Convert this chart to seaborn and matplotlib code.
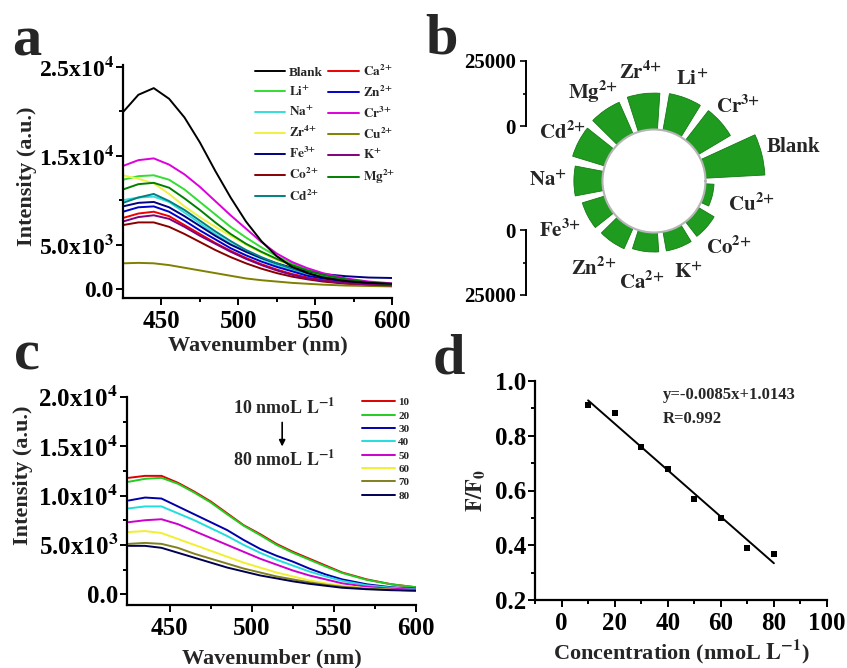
import numpy as np
import pandas as pd
import matplotlib
matplotlib.use("Agg")
import matplotlib.pyplot as plt
import seaborn as sns
from matplotlib.ticker import FixedLocator, FixedFormatter, MultipleLocator

sns.set_theme(style="ticks")
plt.rcParams["font.family"] = ["Liberation Serif", "DejaVu Serif"]
plt.rcParams["font.weight"] = "bold"
plt.rcParams["axes.labelweight"] = "bold"
plt.rcParams["mathtext.fontset"] = "stix"
plt.rcParams["mathtext.default"] = "bf"

# ---------------- data ----------------
wavelength = [425, 435, 445, 455, 465, 475, 485, 495, 505, 515, 525, 535, 545, 555, 570, 585, 600]

# panel a: emission spectra with different ions
blank = [19900, 21850, 22600, 21400, 19300, 16500, 13300, 10300, 7600, 5400, 3700, 2500, 1800, 1300, 900, 700, 600]
li = [12300, 12700, 12800, 12300, 11200, 9800, 8400, 7000, 5800, 4700, 3700, 2900, 2200, 1700, 1100, 750, 550]
na = [10000, 10300, 10400, 9800, 8600, 7400, 6200, 5100, 4200, 3400, 2700, 2100, 1700, 1300, 900, 650, 500]
zr = [12800, 12400, 11900, 10700, 9300, 8100, 7000, 6000, 5000, 4100, 3300, 2600, 2000, 1500, 1000, 700, 500]
fe = [9300, 9700, 9800, 9200, 8200, 7100, 6000, 5000, 4200, 3500, 2900, 2400, 2000, 1700, 1450, 1300, 1250]
co = [7200, 7500, 7500, 7000, 6200, 5300, 4400, 3600, 2900, 2300, 1800, 1400, 1100, 850, 600, 450, 350]
cd = [9700, 10300, 10700, 9900, 8900, 7700, 6500, 5400, 4400, 3600, 2900, 2300, 1800, 1400, 950, 700, 500]
ca = [8000, 8500, 8700, 8200, 7200, 6200, 5200, 4300, 3500, 2800, 2200, 1700, 1300, 1000, 700, 500, 400]
zn = [8700, 9200, 9300, 8700, 7700, 6600, 5600, 4600, 3800, 3100, 2500, 2000, 1500, 1200, 850, 650, 550]
cr = [13850, 14500, 14700, 14000, 12900, 11500, 9900, 8300, 6800, 5300, 4000, 3050, 2350, 1800, 1200, 850, 650]
cu = [2900, 2950, 2900, 2700, 2400, 2100, 1800, 1500, 1200, 1000, 850, 700, 600, 500, 400, 350, 300]
k = [7600, 8100, 8300, 7900, 7000, 6000, 5100, 4200, 3400, 2700, 2100, 1600, 1200, 950, 700, 500, 400]
mg = [11200, 11800, 11950, 11400, 10200, 8900, 7500, 6200, 5100, 4200, 3400, 2700, 2100, 1600, 1100, 750, 550]

ion_labels = ["Blank", r"$Li^{+}$", r"$Na^{+}$", r"$Zr^{4{+}}$", r"$Fe^{3{+}}$", r"$Co^{2{+}}$",
              r"$Cd^{2{+}}$", r"$Ca^{2{+}}$", r"$Zn^{2{+}}$", r"$Cr^{3{+}}$", r"$Cu^{2{+}}$",
              r"$K^{+}$", r"$Mg^{2{+}}$"]
ion_series = [blank, li, na, zr, fe, co, cd, ca, zn, cr, cu, k, mg]
ion_colors = ["#000000", "#33dd33", "#33dddd", "#f0f040", "#000080", "#880000", "#008080",
              "#ee0000", "#0000cc", "#dd00dd", "#808000", "#800080", "#008000"]

# panel b: polar bars (counter-clockwise from east)
polar_ions = ["Blank", r"$Cr^{3{+}}$", r"$Li^{+}$", r"$Zr^{4{+}}$", r"$Mg^{2{+}}$", r"$Cd^{2{+}}$",
              r"$Na^{+}$", r"$Fe^{3{+}}$", r"$Zn^{2{+}}$", r"$Ca^{2{+}}$", r"$K^{+}$",
              r"$Co^{2{+}}$", r"$Cu^{2{+}}$"]
polar_values = [22900, 14400, 14300, 14000, 13300, 12900, 11000, 9000, 8650, 7500, 7500, 7100, 3300]

# panel c: concentration series
conc_labels = ["10", "20", "30", "40", "50", "60", "70", "80"]
c10 = [11800, 12000, 12000, 11300, 10400, 9400, 8200, 7000, 6100, 5100, 4300, 3600, 2900, 2200, 1500, 1000, 700]
c20 = [11400, 11700, 11800, 11200, 10300, 9300, 8100, 6950, 6000, 5000, 4200, 3500, 2800, 2150, 1450, 1000, 700]
c30 = [9500, 9800, 9700, 8900, 8100, 7300, 6500, 5500, 4600, 3900, 3300, 2600, 2000, 1500, 1000, 700, 550]
c40 = [8700, 8900, 8900, 8200, 7500, 6700, 5900, 5000, 4200, 3500, 2900, 2300, 1800, 1350, 900, 650, 500]
c50 = [7300, 7500, 7600, 7100, 6400, 5700, 5000, 4300, 3600, 3000, 2400, 1900, 1500, 1100, 750, 550, 450]
c60 = [6300, 6400, 6200, 5600, 5000, 4400, 3800, 3200, 2700, 2200, 1800, 1400, 1100, 850, 600, 450, 350]
c70 = [5100, 5200, 5100, 4700, 4100, 3600, 3100, 2600, 2200, 1800, 1500, 1200, 950, 750, 550, 450, 350]
c80 = [4900, 4900, 4700, 4200, 3700, 3200, 2700, 2300, 1900, 1600, 1300, 1050, 850, 650, 500, 400, 350]
conc_series = [c10, c20, c30, c40, c50, c60, c70, c80]
conc_colors = ["#dd0000", "#22cc22", "#0000aa", "#22dddd", "#cc00cc", "#f0f030", "#808020", "#000050"]

# panel d: linear fit
concentration = [10, 20, 30, 40, 50, 60, 70, 80]
f_ratio = [0.912, 0.884, 0.760, 0.679, 0.569, 0.500, 0.391, 0.367]
fit_slope = -0.0085
fit_intercept = 1.0143
fit_range = [10, 80]

# ---------------- figure ----------------
W, H = 847, 668
fig = plt.figure(figsize=(W / 100, H / 100), dpi=100)


def px_axes(l, t, r, b, **kw):
    return fig.add_axes([l / W, 1 - b / H, (r - l) / W, (b - t) / H], **kw)


def style_axes(ax):
    for s in ["top", "right"]:
        ax.spines[s].set_visible(False)
    for s in ["left", "bottom"]:
        ax.spines[s].set_linewidth(1.6)
        ax.spines[s].set_color("black")
    ax.tick_params(which="both", direction="out", width=1.4, colors="black")
    ax.tick_params(which="major", length=5)
    ax.tick_params(which="minor", length=3)
    ax.tick_params(axis="y", which="major", pad=1.5)
    ax.set_facecolor("white")
    ax.grid(False)


# ---- panel a ----
ax_a = px_axes(123, 65, 392, 298)
for lab, vals, col in zip(ion_labels, ion_series, ion_colors):
    sns.lineplot(x=wavelength, y=vals, color=col, lw=1.4, ax=ax_a, label=lab,
                 zorder=3 if lab == "Blank" else 2)
style_axes(ax_a)
ax_a.set_xlim(425, 600)
ax_a.set_ylim(-1000, 25200)
ax_a.xaxis.set_major_locator(FixedLocator([450, 500, 550, 600]))
ax_a.xaxis.set_minor_locator(FixedLocator([475, 525, 575]))
ax_a.yaxis.set_major_locator(FixedLocator([0, 5000, 15000, 25000]))
ax_a.yaxis.set_major_formatter(FixedFormatter(["0.0", r"5.0x10$^{3}$", r"1.5x10$^{4}$", r"2.5x10$^{4}$"]))
ax_a.yaxis.set_minor_locator(FixedLocator([10000, 20000]))
ax_a.tick_params(axis="x", labelsize=18)
ax_a.tick_params(axis="y", labelsize=17)
ax_a.set_xlabel("Wavenumber (nm)", fontsize=16, labelpad=2)
ax_a.set_ylabel("Intensity (a.u.)", fontsize=16)
ax_a.yaxis.set_label_coords(-0.32, 0.524)
ax_a.legend(ncol=2, loc="upper right", bbox_to_anchor=(1.04, 1.04), frameon=False,
            fontsize=9.5, handlelength=2.3, handletextpad=0.3, columnspacing=0.4,
            labelspacing=0.45, borderaxespad=0.2)

# ---- panel b ----
R_px = 116.5
cx, cy = 654, 181
ax_b = px_axes(cx - R_px, cy - R_px, cx + R_px, cy + R_px, projection="polar")
slot = 2 * np.pi / len(polar_values)
theta = [slot / 2 + i * slot for i in range(len(polar_values))]
r_origin_px = 51.5
pxu = 25000 / 65.0
ax_b.set_rorigin(-r_origin_px * pxu)
ax_b.set_ylim(0, 25000)
ax_b.bar(theta, polar_values, width=np.deg2rad(21.5), bottom=0, color="#1f9c1f",
         edgecolor="#137a13", linewidth=0.6)
ax_b.grid(False)
ax_b.set_xticks([])
ax_b.set_yticks([])
ax_b.spines["polar"].set_visible(False)
ax_b.spines["inner"].set_color("#b5b5b5")
ax_b.spines["inner"].set_linewidth(1.5)
ax_b.patch.set_alpha(0)
# label centre distance from the chart centre, in pixels
label_dist_px = [144, 112, 108, 109, 108, 104, 106, 106, 106, 102, 98, 100, 100]
for th, lab, dpx in zip(theta, polar_ions, label_dist_px):
    ax_b.text(th, (dpx - r_origin_px) * pxu, lab, ha="center", va="center",
              fontsize=15, fontweight="bold")

for (t, b, inv) in [(61, 126, False), (230, 295, True)]:
    axs = px_axes(526, t, 527, b)
    for s in ["top", "right", "bottom"]:
        axs.spines[s].set_visible(False)
    axs.spines["left"].set_linewidth(1.4)
    axs.spines["left"].set_color("black")
    axs.patch.set_alpha(0)
    axs.set_xticks([])
    axs.set_ylim((25000, 0) if inv else (0, 25000))
    axs.yaxis.set_major_locator(FixedLocator([0, 25000]))
    axs.yaxis.set_major_formatter(FixedFormatter(["0", "25000"]))
    axs.yaxis.set_minor_locator(FixedLocator([12500]))
    axs.tick_params(which="both", direction="out", width=1.2, colors="black", labelsize=15)
    axs.tick_params(which="major", length=4)
    axs.tick_params(which="minor", length=2)

# ---- panel c ----
ax_c = px_axes(127, 397, 416, 605)
for lab, vals, col in zip(conc_labels, conc_series, conc_colors):
    sns.lineplot(x=wavelength, y=vals, color=col, lw=1.4, ax=ax_c, label=lab)
style_axes(ax_c)
ax_c.set_xlim(424, 600)
ax_c.set_ylim(-1100, 20000)
ax_c.xaxis.set_major_locator(FixedLocator([450, 500, 550, 600]))
ax_c.xaxis.set_minor_locator(FixedLocator([475, 525, 575]))
ax_c.yaxis.set_major_locator(FixedLocator([0, 5000, 10000, 15000, 20000]))
ax_c.yaxis.set_major_formatter(FixedFormatter(["0.0", r"5.0x10$^{3}$", r"1.0x10$^{4}$",
                                               r"1.5x10$^{4}$", r"2.0x10$^{4}$"]))
ax_c.yaxis.set_minor_locator(FixedLocator([2500, 7500, 12500, 17500]))
ax_c.tick_params(axis="x", labelsize=18)
ax_c.tick_params(axis="y", labelsize=18)
ax_c.set_xlabel("Wavenumber (nm)", fontsize=16, labelpad=6)
ax_c.set_ylabel("Intensity (a.u.)", fontsize=16)
ax_c.yaxis.set_label_coords(-0.325, 0.625)
ax_c.legend(loc="upper right", bbox_to_anchor=(1.0, 1.03), frameon=False,
            fontsize=8, handlelength=3.0, handletextpad=0.3, labelspacing=0.32,
            borderaxespad=0.2)
ax_c.text(520, 18900, r"10 nmoL $L^{-1}$", ha="center", va="center", fontsize=13)
ax_c.text(520, 13600, r"80 nmoL $L^{-1}$", ha="center", va="center", fontsize=13)
ax_c.annotate("", xy=(518.5, 14700), xytext=(518.5, 17700),
              arrowprops=dict(arrowstyle="-|>", color="black", lw=1.2, mutation_scale=9))

# ---- panel d ----
ax_d = px_axes(535, 381, 827, 600)
sns.scatterplot(x=concentration, y=f_ratio, marker="s", color="black", s=18,
                edgecolor="black", linewidth=0, ax=ax_d, zorder=3)
fit_y = [fit_slope * x + fit_intercept for x in fit_range]
sns.lineplot(x=fit_range, y=fit_y, color="black", lw=1.4, ax=ax_d)
style_axes(ax_d)
ax_d.set_xlim(-10, 100)
ax_d.set_ylim(0.2, 1.0)
ax_d.xaxis.set_major_locator(MultipleLocator(20))
ax_d.xaxis.set_minor_locator(MultipleLocator(10))
ax_d.yaxis.set_major_locator(MultipleLocator(0.2))
ax_d.yaxis.set_minor_locator(MultipleLocator(0.1))
ax_d.yaxis.set_major_formatter(matplotlib.ticker.FormatStrFormatter("%.1f"))
ax_d.tick_params(labelsize=18)
ax_d.set_xlabel(r"Concentration (nmoL $L^{-1}$)", fontsize=16, labelpad=2)
ax_d.set_ylabel(r"$F/F_{0}$", fontsize=16)
ax_d.yaxis.set_label_coords(-0.161, 0.5)
ax_d.text(38, 0.95, "y=-0.0085x+1.0143", ha="left", va="center", fontsize=12)
ax_d.text(38, 0.86, "R=0.992", ha="left", va="center", fontsize=12)

# ---- panel letters ----
for lab, x, y in [("a", 12, 55), ("b", 425, 53), ("c", 14, 370), ("d", 433, 373)]:
    fig.text(x / W, 1 - y / H, lab, fontsize=42, fontweight="bold", ha="left", va="baseline")

fig.savefig("out.png", dpi=100, facecolor="white")
